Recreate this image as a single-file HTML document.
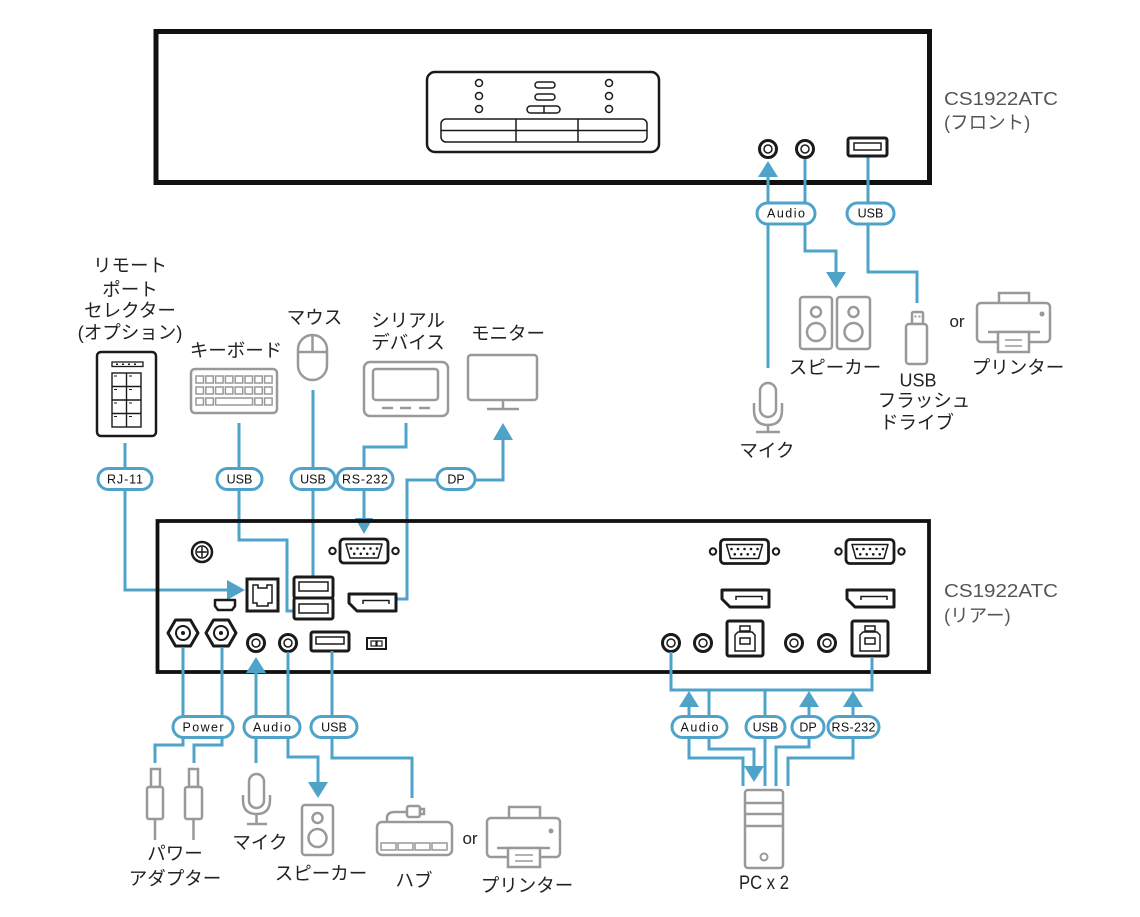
<!DOCTYPE html>
<html><head><meta charset="utf-8"><style>
html,body{margin:0;padding:0;background:#fff;}
svg{display:block;}
.b{fill:none;stroke:#4fa3c8;stroke-width:3;}
.bf{fill:#4fa3c8;stroke:none;}
.pill{fill:#fff;stroke:#4fa3c8;stroke-width:3;}
.pt{font-family:"Liberation Sans",sans-serif;font-size:12.5px;fill:#111;text-anchor:middle;}
.k{fill:#fff;stroke:#1a1a1a;stroke-width:3;}
.kt{fill:none;stroke:#1a1a1a;stroke-width:1.5;}
.g{fill:#fff;stroke:#999;stroke-width:2.5;}
.gn{fill:none;stroke:#999;stroke-width:2.5;}
.gt{fill:none;stroke:#999;stroke-width:1.5;}
.jp{font-family:"Liberation Sans","Noto Sans CJK JP",sans-serif;font-size:18.5px;fill:#222;text-anchor:middle;}
.lt{font-family:"Liberation Sans",sans-serif;font-size:17px;fill:#222;text-anchor:middle;}
.cs{font-family:"Liberation Sans","Noto Sans CJK JP",sans-serif;font-size:18.5px;fill:#555;}
</style></head><body>
<svg width="1140" height="917" viewBox="0 0 1140 917" xmlns="http://www.w3.org/2000/svg">
<defs>
  <g id="jack"><circle r="8.5" fill="#fff" stroke="#1a1a1a" stroke-width="3"/><circle r="4" fill="none" stroke="#1a1a1a" stroke-width="1.5"/></g>
  <g id="db9">
    <circle cx="-31.5" cy="0" r="3.2" fill="#fff" stroke="#1a1a1a" stroke-width="2"/>
    <circle cx="31.5" cy="0" r="3.2" fill="#fff" stroke="#1a1a1a" stroke-width="2"/>
    <rect x="-24" y="-12" width="48" height="24" rx="4" fill="#fff" stroke="#1a1a1a" stroke-width="2.8"/>
    <path d="M-18,-7 H18 L14,7 H-14 Z" fill="none" stroke="#1a1a1a" stroke-width="1.5" stroke-linejoin="round"/>
    <g fill="#1a1a1a"><circle cx="-13" cy="-2.5" r="1.3"/><circle cx="-6.5" cy="-2.5" r="1.3"/><circle cx="0" cy="-2.5" r="1.3"/><circle cx="6.5" cy="-2.5" r="1.3"/><circle cx="13" cy="-2.5" r="1.3"/>
    <circle cx="-9.75" cy="2.8" r="1.3"/><circle cx="-3.25" cy="2.8" r="1.3"/><circle cx="3.25" cy="2.8" r="1.3"/><circle cx="9.75" cy="2.8" r="1.3"/></g>
  </g>
  <g id="dp"><path d="M0,0 H47 V17 H8 L0,9 Z" fill="#fff" stroke="#1a1a1a" stroke-width="3" stroke-linejoin="round"/><path d="M14,10 V6.5 H40 V10" fill="none" stroke="#1a1a1a" stroke-width="1.5"/></g>
  <g id="usbb"><rect x="0" y="0" width="36" height="35" rx="2" fill="#fff" stroke="#1a1a1a" stroke-width="3"/><rect x="13" y="5" width="10" height="5" fill="none" stroke="#1a1a1a" stroke-width="1.5"/><path d="M8,14 L11,11 H25 L28,14 V30 H8 Z" fill="none" stroke="#1a1a1a" stroke-width="1.5"/><rect x="13" y="17" width="10" height="6" fill="none" stroke="#1a1a1a" stroke-width="1.5"/></g>
  <g id="hex"><polygon points="-15,0 -7.5,-13 7.5,-13 15,0 7.5,13 -7.5,13" fill="#fff" stroke="#1a1a1a" stroke-width="3" stroke-linejoin="round"/><circle r="7" fill="none" stroke="#1a1a1a" stroke-width="2"/><circle r="2" fill="#1a1a1a"/></g>
</defs>

<!-- ===== FRONT UNIT ===== -->
<rect x="156" y="31.5" width="773.5" height="151" fill="#fff" stroke="#111" stroke-width="5"/>
<rect x="427" y="72" width="232" height="80" rx="8" fill="#fff" stroke="#1a1a1a" stroke-width="2.5"/>
<g fill="none" stroke="#1a1a1a" stroke-width="1.5">
  <circle cx="479" cy="83" r="3.5"/><circle cx="479" cy="96" r="3.5"/><circle cx="479" cy="109" r="3.5"/>
  <circle cx="609" cy="83" r="3.5"/><circle cx="609" cy="96" r="3.5"/><circle cx="609" cy="109" r="3.5"/>
  <rect x="535" y="82" width="20" height="6" rx="3"/><rect x="535" y="94" width="20" height="6" rx="3"/>
  <rect x="527" y="106" width="33" height="7" rx="3.5"/><line x1="544" y1="106" x2="544" y2="113"/>
  <rect x="441" y="119" width="206" height="23" rx="5"/><line x1="441" y1="130.5" x2="647" y2="130.5"/>
  <line x1="516" y1="119" x2="516" y2="142"/><line x1="578" y1="119" x2="578" y2="142"/>
</g>

<!-- front connectors -->
<path class="b" d="M768,368 V176"/>
<polygon class="bf" points="758,177 778,177 768,161"/>
<path class="b" d="M805,158 V251 H836 V273"/>
<polygon class="bf" points="826,272 846,272 836,288"/>
<path class="b" d="M868,156 V272 H917 V303"/>

<use href="#jack" x="768" y="149"/>
<use href="#jack" x="805" y="149"/>
<rect x="848" y="138" width="39" height="18" rx="2" class="k"/>
<rect x="854" y="143" width="27" height="7" class="kt"/>

<rect class="pill" x="757" y="203" width="58" height="21" rx="10.5"/>
<text class="pt" x="786" y="217.5" textLength="38" lengthAdjust="spacing">Audio</text>
<rect class="pill" x="847" y="203" width="47" height="21" rx="10.5"/>
<text class="pt" x="870.5" y="217.5">USB</text>

<text class="cs" x="944" y="105" textLength="114" lengthAdjust="spacingAndGlyphs">CS1922ATC</text>
<text class="cs" x="944" y="129">(フロント)</text>

<!-- front devices -->
<rect class="g" x="800" y="297" width="32" height="52" rx="3"/>
<circle class="gn" cx="816" cy="312" r="5"/><circle class="gn" cx="816" cy="332" r="9"/>
<rect class="g" x="837" y="297" width="33" height="52" rx="3"/>
<circle class="gn" cx="853.5" cy="312" r="5"/><circle class="gn" cx="853.5" cy="332" r="9"/>
<text class="jp" x="835" y="374">スピーカー</text>

<rect class="g" x="912" y="312" width="11" height="12" rx="1.5"/>
<rect x="914.5" y="315.5" width="2" height="2" fill="#999"/><rect x="918.5" y="315.5" width="2" height="2" fill="#999"/>
<rect class="g" x="906" y="324" width="21" height="40" rx="3"/>
<text class="lt" x="918" y="386.5" style="font-size:18px">USB</text>
<text class="jp" x="924" y="407">フラッシュ</text>
<text class="jp" x="917" y="429">ドライブ</text>

<text class="lt" x="957" y="327">or</text>

<rect class="g" x="999" y="293" width="30" height="12"/>
<rect class="g" x="977" y="303" width="73" height="39" rx="4"/>
<circle cx="1042" cy="314" r="2.5" fill="#999"/>
<line class="gn" x1="988" y1="332" x2="1040" y2="332"/>
<rect class="g" x="998" y="332" width="31" height="20"/>
<line class="gt" x1="1005" y1="340" x2="1022" y2="340"/><line class="gt" x1="1005" y1="346" x2="1022" y2="346"/>
<text class="jp" x="1018" y="374">プリンター</text>

<rect class="g" x="760" y="383" width="16" height="34" rx="8"/>
<path class="gn" d="M754,403 V410 Q754,425 768,425 Q782,425 782,410 V403 M768,425 V432 M756,432 H780"/>
<text class="jp" x="767" y="457">マイク</text>

<!-- ===== LEFT TOP DEVICES ===== -->
<text class="jp" x="130" y="272">リモート</text>
<text class="jp" x="130" y="296">ポート</text>
<text class="jp" x="130" y="317">セレクター</text>
<text class="jp" x="130" y="339">(オプション)</text>
<rect x="97" y="352" width="59" height="84" rx="4" fill="#fff" stroke="#1a1a1a" stroke-width="2.5"/>
<rect x="112" y="362" width="31" height="4.5" fill="none" stroke="#1a1a1a" stroke-width="1.3"/>
<g fill="#1a1a1a"><rect x="116" y="363.5" width="2" height="1.5"/><rect x="122" y="363.5" width="2" height="1.5"/><rect x="128" y="363.5" width="2" height="1.5"/><rect x="134" y="363.5" width="2" height="1.5"/></g>
<g fill="none" stroke="#1a1a1a" stroke-width="1.4">
<rect x="112" y="373" width="29" height="54"/>
<line x1="126.5" y1="373" x2="126.5" y2="427"/>
<line x1="112" y1="386.5" x2="141" y2="386.5"/><line x1="112" y1="400" x2="141" y2="400"/><line x1="112" y1="413.5" x2="141" y2="413.5"/>
</g>
<g stroke="#1a1a1a" stroke-width="1"><line x1="114" y1="376" x2="117" y2="376"/><line x1="129" y1="376" x2="132" y2="376"/><line x1="114" y1="389.5" x2="117" y2="389.5"/><line x1="129" y1="389.5" x2="132" y2="389.5"/><line x1="114" y1="403" x2="117" y2="403"/><line x1="129" y1="403" x2="132" y2="403"/><line x1="114" y1="416.5" x2="117" y2="416.5"/><line x1="129" y1="416.5" x2="132" y2="416.5"/></g>

<text class="jp" x="236" y="357">キーボード</text>
<rect class="g" x="191" y="369" width="86" height="44" rx="4"/>
<g class="gt">
<rect x="196" y="376" width="7.5" height="7"/><rect x="205.8" y="376" width="7.5" height="7"/><rect x="215.6" y="376" width="7.5" height="7"/><rect x="225.4" y="376" width="7.5" height="7"/><rect x="235.2" y="376" width="7.5" height="7"/><rect x="245" y="376" width="7.5" height="7"/><rect x="254.8" y="376" width="7.5" height="7"/><rect x="264.6" y="376" width="7.5" height="7"/>
<rect x="196" y="387" width="7.5" height="7"/><rect x="205.8" y="387" width="7.5" height="7"/><rect x="215.6" y="387" width="7.5" height="7"/><rect x="225.4" y="387" width="7.5" height="7"/><rect x="235.2" y="387" width="7.5" height="7"/><rect x="245" y="387" width="7.5" height="7"/><rect x="254.8" y="387" width="7.5" height="7"/><rect x="264.6" y="387" width="7.5" height="7"/>
<rect x="196" y="398" width="7.5" height="7"/><rect x="205.8" y="398" width="7.5" height="7"/><rect x="215.6" y="398" width="37" height="7"/><rect x="254.8" y="398" width="7.5" height="7"/><rect x="264.6" y="398" width="7.5" height="7"/>
</g>

<text class="jp" x="314.5" y="324">マウス</text>
<rect class="g" x="298" y="335" width="29" height="45" rx="14.5"/>
<path class="gn" d="M298,352 H327 M312.5,335 V352"/>

<text class="jp" x="408" y="327">シリアル</text>
<text class="jp" x="408" y="349">デバイス</text>
<rect class="g" x="364" y="362" width="84" height="54" rx="6"/>
<rect class="g" x="373" y="369" width="65" height="31" rx="3"/>
<path class="gn" d="M382,408 H393 M400,408 H411 M419,408 H430"/>

<text class="jp" x="508" y="340">モニター</text>
<rect class="g" x="468" y="355" width="69" height="45" rx="3"/>
<path class="gn" d="M503,400 V409 M487,409 H519"/>

<!-- ===== MIDDLE CONNECTORS ===== -->
<path class="b" d="M125,443 V590 H228"/>
<polygon class="bf" points="227,580 227,600 245,590"/>
<path class="b" d="M239,423 V540 H287 V611 H294"/>
<path class="b" d="M313,390 V577"/>
<path class="b" d="M406,423 V447 H364 V519"/>
<polygon class="bf" points="355,518 373,518 364,534"/>
<polygon class="bf" points="493,440 513,440 503,423"/>
<path class="b" d="M503,439 V480 H407 V599 H396"/>

<rect class="pill" x="98" y="468.5" width="54" height="21" rx="10.5"/>
<text class="pt" x="125" y="483.5" textLength="36" lengthAdjust="spacing">RJ-11</text>
<rect class="pill" x="217" y="468.5" width="45" height="21" rx="10.5"/>
<text class="pt" x="239.5" y="483.5">USB</text>
<rect class="pill" x="291" y="468.5" width="44" height="21" rx="10.5"/>
<text class="pt" x="313" y="483.5">USB</text>
<rect class="pill" x="337" y="468.5" width="56" height="21" rx="10.5"/>
<text class="pt" x="365" y="483.5" textLength="46" lengthAdjust="spacing">RS-232</text>
<rect class="pill" x="437" y="468.5" width="38" height="21" rx="10.5"/>
<text class="pt" x="456" y="483.5">DP</text>

<!-- ===== REAR UNIT ===== -->
<rect x="157.5" y="521" width="771.5" height="151" fill="none" stroke="#111" stroke-width="3.8"/>

<!-- ground screw -->
<circle cx="202" cy="552" r="10" fill="#fff" stroke="#1a1a1a" stroke-width="2.5"/>
<circle cx="202" cy="552" r="6" fill="none" stroke="#1a1a1a" stroke-width="1.5"/>
<path d="M202,547 V557 M197,552 H207" stroke="#1a1a1a" stroke-width="1.5"/>

<!-- RJ-11 -->
<rect x="247" y="579" width="31" height="32" class="k"/>
<path d="M253,585 H258 V588 H267 V585 H272 V603 H268 V606 H257 V603 H253 Z" class="kt"/>
<!-- mini port -->
<path d="M215,600 H235 V606 L232,610 H218 L215,606 Z" fill="#fff" stroke="#1a1a1a" stroke-width="2.5" stroke-linejoin="round"/>

<!-- stacked USB -->
<rect x="294" y="577" width="39" height="21" rx="2" class="k"/>
<rect x="294" y="598" width="39" height="21" rx="2" class="k"/>
<rect x="299" y="582" width="29" height="9" class="kt"/>
<rect x="299" y="604" width="29" height="9" class="kt"/>

<use href="#db9" x="364" y="551"/>
<use href="#dp" x="349" y="594"/>

<use href="#hex" x="183" y="633"/>
<use href="#hex" x="221" y="633"/>
<use href="#jack" x="256" y="643"/>
<use href="#jack" x="288" y="643"/>
<rect x="311" y="632" width="38" height="19" rx="2" class="k"/>
<rect x="316" y="637" width="28" height="7" class="kt"/>
<rect x="367" y="638" width="19" height="11" fill="#fff" stroke="#1a1a1a" stroke-width="2"/>
<rect x="371" y="641" width="5" height="5" fill="none" stroke="#1a1a1a" stroke-width="1.2"/><rect x="377" y="641" width="5" height="5" fill="none" stroke="#1a1a1a" stroke-width="1.2"/>

<!-- rear right ports -->
<use href="#db9" x="744.5" y="551.5"/>
<use href="#db9" x="870" y="551.5"/>
<use href="#dp" x="722" y="590"/>
<use href="#dp" x="847" y="590"/>
<use href="#jack" x="671" y="643"/>
<use href="#jack" x="703" y="643"/>
<use href="#jack" x="794" y="643"/>
<use href="#jack" x="827" y="643"/>
<use href="#usbb" x="727" y="621"/>
<use href="#usbb" x="852" y="621"/>

<text class="cs" x="944" y="597" textLength="114" lengthAdjust="spacingAndGlyphs">CS1922ATC</text>
<text class="cs" x="944" y="622">(リアー)</text>

<!-- ===== BOTTOM LEFT CONNECTORS ===== -->
<path class="b" d="M183,648 V745 H155 V763"/>
<path class="b" d="M222,648 V745 H194 V763"/>
<polygon class="bf" points="246,673 266,673 256,657"/>
<path class="b" d="M256,672 V763"/>
<path class="b" d="M288,652 V757 H318 V783"/>
<polygon class="bf" points="308,782 328,782 318,798"/>
<path class="b" d="M332,651 V758 H412 V798"/>

<rect class="pill" x="173" y="716.5" width="60" height="21" rx="10.5"/>
<text class="pt" x="203" y="731.5" textLength="41" lengthAdjust="spacing">Power</text>
<rect class="pill" x="244" y="716.5" width="56" height="21" rx="10.5"/>
<text class="pt" x="272" y="731.5" textLength="38" lengthAdjust="spacing">Audio</text>
<rect class="pill" x="311" y="716.5" width="46" height="21" rx="10.5"/>
<text class="pt" x="334" y="731.5">USB</text>

<!-- power plugs -->
<rect class="g" x="151" y="769" width="9" height="18"/>
<rect class="g" x="147" y="787" width="16" height="32" rx="2"/>
<path class="gn" d="M155,819 V840"/>
<rect class="g" x="189" y="769" width="9" height="18"/>
<rect class="g" x="185" y="787" width="17" height="32" rx="2"/>
<path class="gn" d="M193.5,819 V840"/>
<text class="jp" x="175" y="860">パワー</text>
<text class="jp" x="175" y="885">アダプター</text>

<!-- rear mic -->
<rect class="g" x="249" y="774" width="15" height="34" rx="7.5"/>
<path class="gn" d="M243,795 V800 Q243,814 256.5,814 Q270,814 270,800 V795 M256.5,814 V824 M247,824 H267"/>
<text class="jp" x="260" y="849">マイク</text>

<!-- rear speaker -->
<rect class="g" x="302" y="805" width="31" height="50" rx="3"/>
<circle class="gn" cx="317.5" cy="818" r="5"/><circle class="gn" cx="317.5" cy="838" r="9"/>
<text class="jp" x="321" y="880">スピーカー</text>

<!-- hub -->
<path class="gn" d="M407,812 H395 Q387,812 387,818 V822"/>
<rect class="g" x="407" y="806" width="13" height="11" rx="2"/>
<rect class="g" x="420" y="809" width="4" height="5"/>
<rect class="g" x="377" y="822" width="75" height="33" rx="5"/>
<g class="gt"><rect x="381" y="843" width="15" height="7"/><rect x="398" y="843" width="15" height="7"/><rect x="415" y="843" width="15" height="7"/><rect x="432" y="843" width="15" height="7"/></g>
<text class="jp" x="414" y="887">ハブ</text>

<text class="lt" x="470" y="844">or</text>

<!-- rear printer -->
<rect class="g" x="509" y="807" width="31" height="13"/>
<rect class="g" x="487" y="818" width="73" height="39" rx="4"/>
<circle cx="551" cy="831" r="2.5" fill="#999"/>
<line class="gn" x1="497" y1="848" x2="550" y2="848"/>
<rect class="g" x="508" y="848" width="32" height="19"/>
<line class="gt" x1="515" y1="855" x2="533" y2="855"/><line class="gt" x1="515" y1="861" x2="533" y2="861"/>
<text class="jp" x="527" y="892">プリンター</text>

<!-- ===== BOTTOM RIGHT CONNECTORS ===== -->
<path class="b" d="M671,652 V690 H872 V657"/>
<polygon class="bf" points="679,707 699,707 689,691"/>
<polygon class="bf" points="799,707 819,707 809,691"/>
<polygon class="bf" points="843,707 863,707 853,691"/>
<path class="b" d="M689,706 V758 H743 V786"/>
<path class="b" d="M709,690 V749 H754 V767"/>
<polygon class="bf" points="744,766 764,766 754,782"/>
<path class="b" d="M765,690 V786"/>
<path class="b" d="M809,706 V747 H776 V786"/>
<path class="b" d="M853,706 V758 H788 V786"/>

<rect class="pill" x="672" y="716.5" width="55" height="21" rx="10.5"/>
<text class="pt" x="699.5" y="731.5" textLength="38" lengthAdjust="spacing">Audio</text>
<rect class="pill" x="746" y="716.5" width="39" height="21" rx="10.5"/>
<text class="pt" x="765.5" y="731.5">USB</text>
<rect class="pill" x="792" y="716.5" width="32" height="21" rx="10.5"/>
<text class="pt" x="808" y="731.5">DP</text>
<rect class="pill" x="828" y="716.5" width="51" height="21" rx="10.5"/>
<text class="pt" x="853.5" y="731.5" textLength="44" lengthAdjust="spacing">RS-232</text>

<!-- PC -->
<rect class="g" x="745" y="790" width="38" height="78" rx="3"/>
<path class="gn" d="M745,803 H783 M745,814 H783 M745,826 H783"/>
<circle class="gn" cx="764" cy="857" r="3.5" style="stroke-width:2"/>
<text class="lt" x="764" y="889" style="font-size:19px" textLength="50" lengthAdjust="spacingAndGlyphs">PC x 2</text>
</svg>
</body></html>
